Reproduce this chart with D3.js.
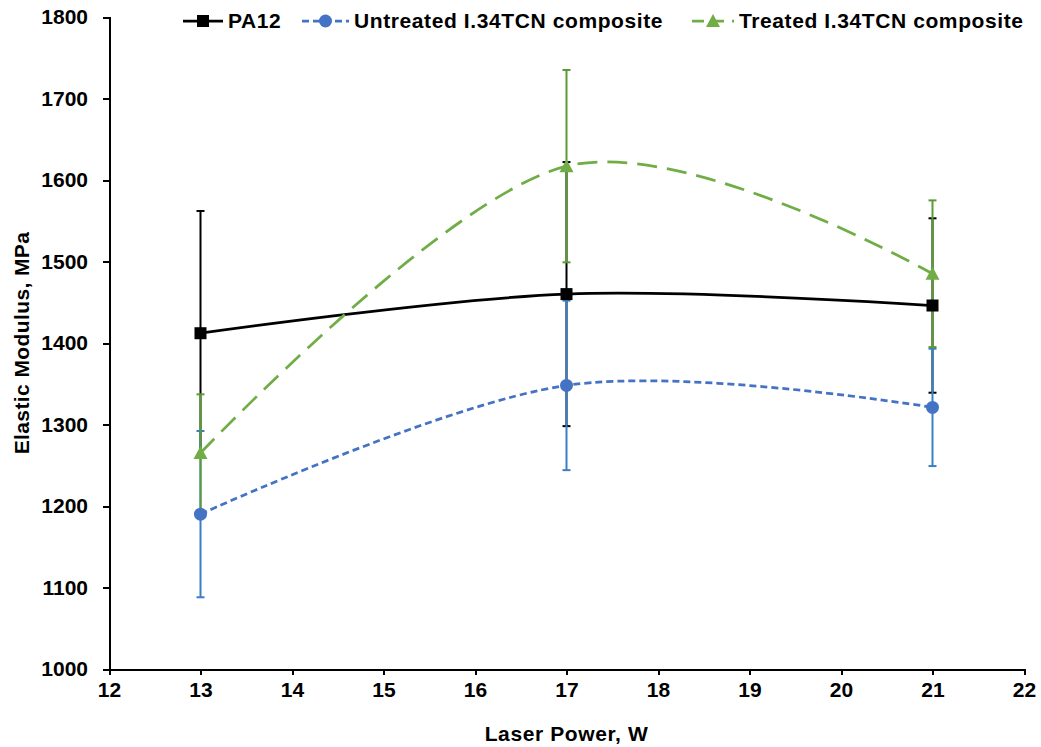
<!DOCTYPE html>
<meta charset="utf-8">
<style>
    body { margin: 0; background: #fff; }
    text { font-family: "Liberation Sans", Arial, sans-serif; font-weight: bold; }
    .axis path, .axis line { stroke: #000; stroke-width: 2px; shape-rendering: crispEdges; }
    .axis text { font-size: 21px; fill: #000; }
</style>
<body>
<script src="https://d3js.org/d3.v7.min.js"></script>
<script>
    // data
    var power = [13, 17, 21];
    var pa12 = [1412, 1460, 1446];
    var pa12Err = [150, 162, 107];
    var untreated = [1190, 1348, 1321];
    var untreatedErr = [102, 104, 72];
    var treated = [1265, 1617, 1485];
    var treatedErr = [72, 118, 90];
    var xTicks = [12, 13, 14, 15, 16, 17, 18, 19, 20, 21, 22];
    var yTicks = [1000, 1100, 1200, 1300, 1400, 1500, 1600, 1700, 1800];

    var series = [
        {name: "PA12", values: pa12, err: pa12Err, color: "#000", errColor: "#000", dash: null, marker: "square"},
        {name: "Untreated I.34TCN composite", values: untreated, err: untreatedErr, color: "#4472C4", errColor: "#3a7fc6", dash: "7,4", marker: "circle"},
        {name: "Treated I.34TCN composite", values: treated, err: treatedErr, color: "#70AD47", errColor: "#5b9a32", dash: "20,10", marker: "triangle"}
    ];

    var W = 1041, H = 747;
    var margin = {top: 17, right: 17, bottom: 78, left: 109};
    var width = W - margin.left - margin.right,
        height = H - margin.top - margin.bottom;

    var svg = d3.select("body").append("svg")
        .attr("width", W)
        .attr("height", H)
        .append("g")
        .attr("transform", "translate(" + margin.left + "," + margin.top + ")");

    var x = d3.scaleLinear().domain([12, 22]).range([0, width]);
    var y = d3.scaleLinear().domain([1000, 1800]).range([height, 0]);

    svg.append("g")
        .attr("class", "x axis")
        .attr("transform", "translate(0," + height + ")")
        .call(d3.axisBottom(x).tickValues(xTicks).tickFormat(d3.format("d")).tickSize(6).tickSizeOuter(6).tickPadding(7));

    svg.append("g")
        .attr("class", "y axis")
        .call(d3.axisLeft(y).tickValues(yTicks).tickFormat(d3.format("d")).tickSize(6).tickSizeOuter(6).tickPadding(15));

    svg.append("text")
        .attr("x", width / 2)
        .attr("y", height + 72)
        .attr("text-anchor", "middle")
        .style("font-size", "21px")
        .style("letter-spacing", "0.6px")
        .text("Laser Power, W");

    svg.append("text")
        .attr("transform", "translate(" + (-80) + "," + (height / 2) + ") rotate(-90)")
        .attr("text-anchor", "middle")
        .style("font-size", "21px")
        .style("letter-spacing", "0.4px")
        .text("Elastic Modulus, MPa");

    // error bars
    series.forEach(function(s) {
        var g = svg.append("g");
        power.forEach(function(p, i) {
            var lo = y(s.values[i] - s.err[i]), hi = y(s.values[i] + s.err[i]);
            g.append("line")
                .attr("x1", x(p)).attr("x2", x(p))
                .attr("y1", lo).attr("y2", hi)
                .attr("stroke", s.errColor).attr("stroke-width", 2);
            [lo, hi].forEach(function(v) {
                g.append("line")
                    .attr("x1", x(p) - 4).attr("x2", x(p) + 4)
                    .attr("y1", v).attr("y2", v)
                    .attr("stroke", s.errColor).attr("stroke-width", 2);
            });
        });
    });

    // smoothed lines
    var line = d3.line()
        .x(function(d, i) { return x(power[i]); })
        .y(function(d) { return y(d); })
        .curve(d3.curveCardinal.tension(0));

    series.forEach(function(s) {
        svg.append("path")
            .datum(s.values)
            .attr("fill", "none")
            .attr("stroke", s.color)
            .attr("stroke-width", 2.75)
            .attr("stroke-dasharray", s.dash)
            .attr("d", line);
    });

    function drawMarker(g, type, cx, cy, color) {
        if (type === "square") {
            g.append("rect").attr("x", cx - 6).attr("y", cy - 6)
                .attr("width", 12).attr("height", 12).attr("fill", color);
        } else if (type === "circle") {
            g.append("circle").attr("cx", cx).attr("cy", cy).attr("r", 6.5).attr("fill", color);
        } else {
            g.append("path")
                .attr("d", "M" + cx + "," + (cy - 7) + "L" + (cx + 7) + "," + (cy + 6) + "L" + (cx - 7) + "," + (cy + 6) + "Z")
                .attr("fill", color);
        }
    }

    series.forEach(function(s) {
        var g = svg.append("g");
        power.forEach(function(p, i) {
            drawMarker(g, s.marker, x(p), y(s.values[i]), s.color);
        });
    });

    // legend
    var legendX = [183, 302, 692];
    var legendW = [40, 47, 42];
    var ly = 21 - margin.top;
    series.forEach(function(s, i) {
        var g = svg.append("g").attr("transform", "translate(" + (-margin.left) + ",0)");
        g.append("line")
            .attr("x1", legendX[i]).attr("x2", legendX[i] + legendW[i])
            .attr("y1", ly).attr("y2", ly)
            .attr("stroke", s.color).attr("stroke-width", 2.75)
            .attr("stroke-dasharray", i === 2 ? "12,8" : s.dash);
        drawMarker(g, s.marker, legendX[i] + legendW[i] / 2, ly, s.color);
        g.append("text")
            .attr("x", legendX[i] + legendW[i] + 5)
            .attr("y", ly + 7)
            .style("font-size", "21px")
            .style("letter-spacing", "0.6px")
            .text(s.name);
    });
</script>
</body>
